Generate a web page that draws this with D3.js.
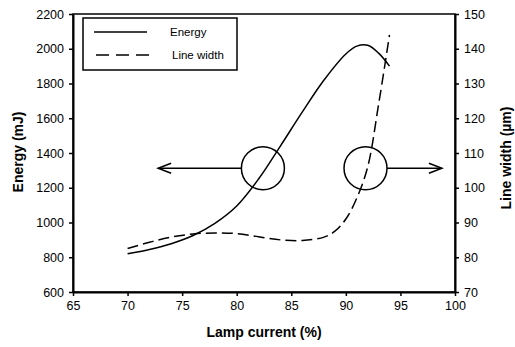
<!DOCTYPE html>
<html><head><meta charset="utf-8">
<script src="https://cdn.jsdelivr.net/npm/d3@7"></script>
<style>body{margin:0;background:#fff}svg{display:block}text{font-family:"Liberation Sans",Arial,sans-serif;fill:#000}</style>
</head><body><svg id="c" width="515" height="347"></svg>
<script>
const current = [70, 72, 74, 76, 78, 80, 82, 84, 86, 88, 90, 91, 92, 93, 94];
const energy = [820, 845, 878, 925, 995, 1095, 1250, 1440, 1635, 1820, 1970, 2015, 2020, 1975, 1900];
const lwCurrent = [70, 72, 74, 76, 78, 80, 82, 84, 86, 88, 89, 90, 91, 92, 93, 94];
const lineWidth = [82.5, 84.3, 85.8, 86.7, 87.0, 86.8, 85.9, 85.0, 84.8, 85.8, 87.5, 91, 97, 106, 124, 144];
const xTicks = [65, 70, 75, 80, 85, 90, 95, 100];
const yLeftTicks = [600, 800, 1000, 1200, 1400, 1600, 1800, 2000, 2200];
const yRightTicks = [70, 80, 90, 100, 110, 120, 130, 140, 150];
const circles = [{x: 82.4, y: 1312}, {x: 91.8, y: 1312}];
const arrowEnds = [72.8, 98.8];

const svg = d3.select("#c");
const x = d3.scaleLinear().domain([65, 100]).range([73, 455]);
const yL = d3.scaleLinear().domain([600, 2200]).range([292, 14]);
const yR = d3.scaleLinear().domain([70, 150]).range([292, 14]);

svg.append("rect").attr("x", 73).attr("y", 14).attr("width", 382).attr("height", 278)
  .attr("fill", "none").attr("stroke", "#000").attr("stroke-width", 1.5);

const font = g => g.selectAll("text").style("font-size", "12.5px").style("font-family", "Liberation Sans, Arial, sans-serif");
const clean = g => { g.select(".domain").attr("stroke-width", 2); g.selectAll(".tick line").attr("stroke-width", 1.5); };
const fmt = d3.format("d");

svg.append("g").attr("transform", "translate(0,292)")
  .call(d3.axisBottom(x).tickValues(xTicks).tickFormat(fmt).tickSize(4).tickSizeOuter(0).tickPadding(5))
  .call(font).call(clean);
svg.append("g").attr("transform", "translate(73,0)")
  .call(d3.axisLeft(yL).tickValues(yLeftTicks).tickFormat(fmt).tickSize(4).tickSizeOuter(0).tickPadding(5))
  .call(font).call(clean);
svg.append("g").attr("transform", "translate(455,0)")
  .call(d3.axisRight(yR).tickValues(yRightTicks).tickFormat(fmt).tickSize(4).tickSizeOuter(0).tickPadding(5))
  .call(font).call(clean);

const lineE = d3.line().x((d, i) => x(current[i])).y(d => yL(d)).curve(d3.curveCatmullRom.alpha(0.5));
svg.append("path").attr("d", lineE(energy)).attr("fill", "none").attr("stroke", "#000").attr("stroke-width", 1.5);
const lineW = d3.line().x((d, i) => x(lwCurrent[i])).y(d => yR(d)).curve(d3.curveCatmullRom.alpha(0.5));
svg.append("path").attr("d", lineW(lineWidth)).attr("fill", "none").attr("stroke", "#000").attr("stroke-width", 1.5)
  .attr("stroke-dasharray", "11,5");

const r = 21.5;
circles.forEach((c, i) => {
  const cx = x(c.x), cy = yL(c.y);
  svg.append("circle").attr("cx", cx).attr("cy", cy).attr("r", r).attr("fill", "none").attr("stroke", "#000").attr("stroke-width", 1.5);
  const dir = i === 0 ? -1 : 1;
  const start = cx + dir * r, end = x(arrowEnds[i]);
  svg.append("line").attr("x1", start).attr("x2", end).attr("y1", cy).attr("y2", cy).attr("stroke", "#000").attr("stroke-width", 1.5);
  svg.append("path").attr("d", `M${end - dir * 13},${cy - 5}L${end},${cy}L${end - dir * 13},${cy + 5}`)
    .attr("fill", "none").attr("stroke", "#000").attr("stroke-width", 1.5);
});

const lg = svg.append("g");
lg.append("rect").attr("x", 83).attr("y", 18).attr("width", 154).attr("height", 52).attr("fill", "#fff").attr("stroke", "#000").attr("stroke-width", 1.5);
lg.append("line").attr("x1", 94).attr("x2", 147).attr("y1", 32).attr("y2", 32).attr("stroke", "#000").attr("stroke-width", 1.5);
lg.append("line").attr("x1", 96).attr("x2", 150).attr("y1", 55).attr("y2", 55).attr("stroke", "#000").attr("stroke-width", 1.5).attr("stroke-dasharray", "13,7");
lg.append("text").attr("x", 170).attr("y", 36).style("font-size", "11.5px").text("Energy");
lg.append("text").attr("x", 172).attr("y", 59).style("font-size", "11.5px").text("Line width");

svg.append("text").attr("x", 264).attr("y", 337).attr("text-anchor", "middle").style("font-size", "14px").style("font-weight", "bold").text("Lamp current (%)");
svg.append("text").attr("transform", "translate(23,152) rotate(-90)").attr("text-anchor", "middle").style("font-size", "14px").style("font-weight", "bold").text("Energy (mJ)");
svg.append("text").attr("transform", "translate(511,158) rotate(-90)").attr("text-anchor", "middle").style("font-size", "14px").style("font-weight", "bold").text("Line width (\u00b5m)");
</script></body></html>
